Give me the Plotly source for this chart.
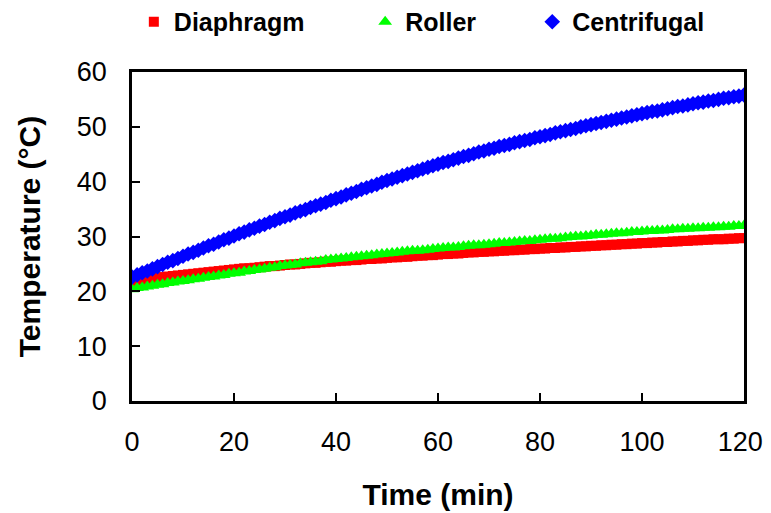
import plotly.graph_objects as go

time_min = list(range(0, 121))

diaphragm = [
    21.9, 22.0, 22.1, 22.2, 22.3, 22.5, 22.6, 22.7, 22.8, 22.9,
    23.0, 23.1, 23.2, 23.3, 23.4, 23.5, 23.6, 23.7, 23.8, 23.9,
    24.0, 24.1, 24.2, 24.2, 24.3, 24.4, 24.5, 24.6, 24.6, 24.7,
    24.8, 24.9, 24.9, 25.0, 25.1, 25.2, 25.2, 25.3, 25.4, 25.4,
    25.5, 25.6, 25.6, 25.7, 25.7, 25.8, 25.9, 25.9, 26.0, 26.0,
    26.1, 26.2, 26.2, 26.3, 26.3, 26.4, 26.5, 26.5, 26.6, 26.6,
    26.7, 26.8, 26.8, 26.9, 26.9, 27.0, 27.1, 27.1, 27.2, 27.2,
    27.3, 27.3, 27.4, 27.4, 27.5, 27.5, 27.6, 27.6, 27.7, 27.7,
    27.8, 27.8, 27.9, 27.9, 28.0, 28.0, 28.1, 28.1, 28.2, 28.2,
    28.3, 28.3, 28.4, 28.4, 28.5, 28.5, 28.6, 28.6, 28.7, 28.7,
    28.8, 28.8, 28.9, 28.9, 29.0, 29.0, 29.1, 29.1, 29.2, 29.2,
    29.3, 29.3, 29.4, 29.4, 29.5, 29.5, 29.5, 29.6, 29.6, 29.7,
    29.7,
]

roller = [
    20.4, 20.6, 20.7, 20.9, 21.0, 21.2, 21.3, 21.5, 21.6, 21.8,
    21.9, 22.0, 22.2, 22.3, 22.5, 22.6, 22.7, 22.9, 23.0, 23.2,
    23.3, 23.4, 23.6, 23.7, 23.9, 24.0, 24.1, 24.3, 24.4, 24.6,
    24.7, 24.8, 24.9, 25.1, 25.2, 25.3, 25.4, 25.5, 25.7, 25.8,
    25.9, 26.0, 26.1, 26.2, 26.3, 26.4, 26.5, 26.6, 26.7, 26.8,
    26.9, 27.0, 27.1, 27.2, 27.3, 27.4, 27.4, 27.5, 27.6, 27.7,
    27.8, 27.9, 28.0, 28.0, 28.1, 28.2, 28.3, 28.4, 28.4, 28.5,
    28.6, 28.7, 28.8, 28.8, 28.9, 29.0, 29.1, 29.2, 29.2, 29.3,
    29.4, 29.5, 29.6, 29.6, 29.7, 29.8, 29.9, 30.0, 30.0, 30.1,
    30.2, 30.3, 30.3, 30.4, 30.5, 30.6, 30.6, 30.7, 30.8, 30.8,
    30.9, 31.0, 31.0, 31.1, 31.1, 31.2, 31.3, 31.3, 31.4, 31.4,
    31.5, 31.5, 31.6, 31.6, 31.7, 31.7, 31.8, 31.8, 31.9, 31.9,
    32.0,
]

centrifugal = [
    22.6, 23.0, 23.4, 23.7, 24.1, 24.5, 24.9, 25.3, 25.6, 26.0,
    26.4, 26.8, 27.1, 27.5, 27.9, 28.3, 28.6, 29.0, 29.4, 29.7,
    30.1, 30.5, 30.8, 31.2, 31.5, 31.9, 32.2, 32.6, 32.9, 33.3,
    33.6, 33.9, 34.3, 34.6, 34.9, 35.3, 35.6, 35.9, 36.2, 36.6,
    36.9, 37.2, 37.6, 37.9, 38.2, 38.6, 38.9, 39.2, 39.5, 39.9,
    40.2, 40.5, 40.8, 41.1, 41.4, 41.7, 42.0, 42.3, 42.6, 42.9,
    43.2, 43.5, 43.7, 44.0, 44.3, 44.6, 44.8, 45.1, 45.4, 45.6,
    45.9, 46.1, 46.4, 46.6, 46.8, 47.1, 47.3, 47.5, 47.7, 48.0,
    48.2, 48.4, 48.6, 48.9, 49.1, 49.3, 49.5, 49.7, 50.0, 50.2,
    50.4, 50.6, 50.8, 51.0, 51.2, 51.4, 51.6, 51.8, 52.0, 52.2,
    52.4, 52.6, 52.8, 52.9, 53.1, 53.3, 53.5, 53.7, 53.8, 54.0,
    54.2, 54.4, 54.5, 54.7, 54.8, 55.0, 55.2, 55.3, 55.5, 55.6,
    55.8,
]

series_names = ["Diaphragm", "Roller", "Centrifugal"]
x_ticks = [0, 20, 40, 60, 80, 100, 120]
x_tick_labels = ["0", "20", "40", "60", "80", "100", "120\u00a0"]
y_ticks = [0, 10, 20, 30, 40, 50, 60]
y_tick_labels = ["0", "10", "20", "30", "40", "50", "60"]

FONT = "Liberation Sans, Arial, sans-serif"

fig = go.Figure()
fig.add_trace(go.Scatter(
    x=time_min, y=diaphragm, name=series_names[0], mode="markers",
    marker=dict(symbol="square", size=10, color="#FF0000", line=dict(width=0)),
    legend="legend", showlegend=True,
))
fig.add_trace(go.Scatter(
    x=time_min, y=roller, name=series_names[1], mode="markers",
    marker=dict(symbol="triangle-up", size=12, color="#00FF00", line=dict(width=0)),
    legend="legend2", showlegend=True,
))
fig.add_trace(go.Scatter(
    x=time_min, y=centrifugal, name=series_names[2], mode="markers",
    marker=dict(symbol="diamond", size=12, color="#0000FF", line=dict(width=0)),
    legend="legend3", showlegend=True,
))

leg_common = dict(
    orientation="h", yanchor="middle", y=1.152, xanchor="left",
    font=dict(family=FONT, size=25, color="black", weight="bold"),
    bgcolor="rgba(0,0,0,0)", borderwidth=0,
)

# the page body adds an 8px offset, so the figure is 8px smaller than the window
fig.update_layout(
    width=763, height=505,
    showlegend=True,
    margin=dict(l=124, r=27, t=64, b=112, autoexpand=False),
    paper_bgcolor="white", plot_bgcolor="white",
    font=dict(family=FONT, color="black"),
    legend=dict(x=0.003, **leg_common),
    legend2=dict(x=0.381, **leg_common),
    legend3=dict(x=0.654, **leg_common),
    xaxis=dict(
        range=[0, 120], tickvals=x_ticks, ticktext=x_tick_labels,
        ticks="inside", ticklen=8, tickwidth=2, tickcolor="black",
        showline=True, linecolor="black", linewidth=2.5, mirror=True,
        showgrid=False, zeroline=False, automargin=False,
        tickfont=dict(family=FONT, size=27, color="black"),
        ticklabelstandoff=15,
        title=dict(text="Time (min)", standoff=28,
                   font=dict(family=FONT, size=30, color="black", weight="bold")),
    ),
    yaxis=dict(
        range=[0, 60], tickvals=y_ticks, ticktext=y_tick_labels,
        ticks="inside", ticklen=8, tickwidth=2, tickcolor="black",
        showline=True, linecolor="black", linewidth=2.5, mirror=True,
        showgrid=False, zeroline=False, automargin=False,
        tickfont=dict(family=FONT, size=27, color="black"),
        ticklabelstandoff=17,
        title=dict(text="Temperature (°C)", standoff=28,
                   font=dict(family=FONT, size=30, color="black", weight="bold")),
    ),
)

fig.write_html("out.html")
